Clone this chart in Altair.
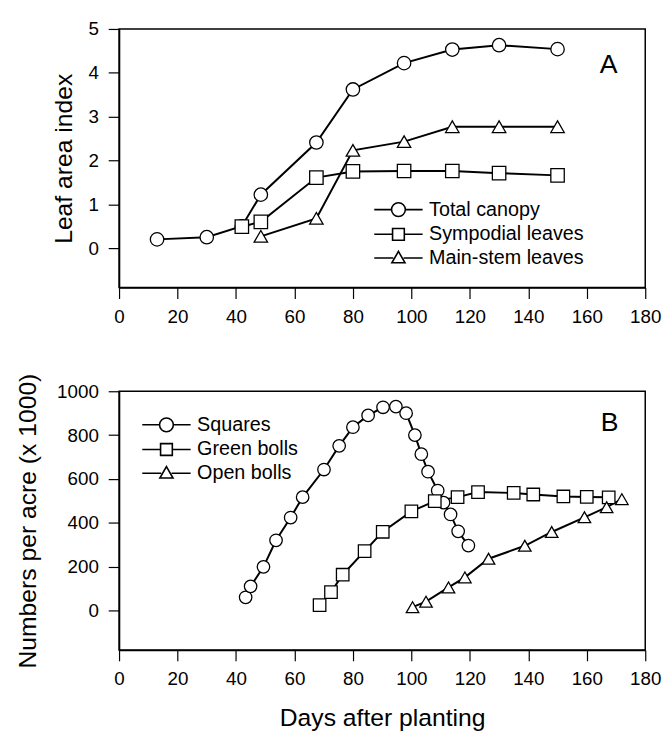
import altair as alt
import pandas as pd

# ---------------- Panel A: leaf area index ----------------
a_names = ["Total canopy", "Sympodial leaves", "Main-stem leaves"]
canopy_days = [13, 30, 42, 48.5, 67.5, 80, 97.5, 114, 130, 150]
canopy_lai = [0.20, 0.25, 0.50, 1.22, 2.41, 3.62, 4.22, 4.53, 4.63, 4.54]
symp_days = [42, 48.5, 67.5, 80, 97.5, 114, 130, 150]
symp_lai = [0.49, 0.60, 1.61, 1.75, 1.76, 1.76, 1.71, 1.66]
main_days = [48.5, 67.5, 80, 97.5, 114, 130, 150]
main_lai = [0.27, 0.68, 2.23, 2.43, 2.77, 2.77, 2.77]

# ---------------- Panel B: fruit numbers ----------------
b_names = ["Squares", "Green bolls", "Open bolls"]
squares_days = [43.3, 45, 49.4, 53.7, 58.7, 62.8, 70.1, 75.3, 80, 85.2, 90.3,
                94.7, 98.2, 101.2, 103.4, 105.7, 109, 111, 113.4, 116, 119.5]
squares_n = [60, 110, 199, 320, 424, 517, 643, 751, 836, 890, 927,
             930, 900, 800, 713, 633, 547, 492, 438, 361, 296]
green_days = [68.6, 72.5, 76.5, 84, 90.2, 100, 108, 115.8, 122.8, 135, 141.7, 152, 160, 167.5]
green_n = [24, 84, 163, 271, 359, 452, 499, 517, 540, 536, 529, 520, 518, 516]
open_days = [100.4, 105, 112.7, 118.3, 126.4, 138.8, 148, 159.2, 166.8, 172]
open_n = [15, 40, 105, 151, 236, 295, 358, 425, 471, 508]

x_ticks = list(range(0, 181, 20))
a_yticks = [0, 1, 2, 3, 4, 5]
b_yticks = [0, 200, 400, 600, 800, 1000]

FONT = "Liberation Sans"

# legend symbols: a short line with the marker in the middle
LEG_CIRCLE = "M-3.5,0L-1,0M1,0L3.5,0M-1,0A1,1 0 1,0 1,0A1,1 0 1,0 -1,0Z"
LEG_SQUARE = "M-3.5,0L-0.85,0M0.85,0L3.5,0M-0.85,-0.85L0.85,-0.85L0.85,0.85L-0.85,0.85Z"
LEG_TRI = "M-3.5,0L-0.75,0M0.75,0L3.5,0M0,-0.95L0.95,0.7L-0.95,0.7Z"
LEG_SHAPES = [LEG_CIRCLE, LEG_SQUARE, LEG_TRI]


def long_df(names, days_list, vals_list):
    frames = []
    for i, (n, d, v) in enumerate(zip(names, days_list, vals_list)):
        frames.append(pd.DataFrame({"series": n, "order": i, "day": d, "val": v}))
    return pd.concat(frames, ignore_index=True)


def panel(df, names, ydomain, yticks, ytitle, ytitle_pad, leg_x, leg_y,
          label, label_day, label_val, xtitle, msize):
    if xtitle:
        xax = alt.Axis(values=x_ticks, title=xtitle, titlePadding=18, format="d", labelFlush=False)
    else:
        xax = alt.Axis(values=x_ticks, title=None, format="d", labelFlush=False)
    x = alt.X("day:Q", scale=alt.Scale(domain=[0, 180], nice=False, zero=False), axis=xax)
    y = alt.Y("val:Q", scale=alt.Scale(domain=ydomain, nice=False, zero=False),
              axis=alt.Axis(values=yticks, title=ytitle, titlePadding=ytitle_pad,
                            labelPadding=10, format="d", labelFlush=False))

    lines = alt.Chart(df).mark_line(color="black", strokeWidth=2).encode(
        x=x, y=y, detail="series:N", order="day:Q")

    pts = alt.Chart(df).mark_point(
        filled=True, fill="white", stroke="black", strokeWidth=1.3, size=msize, opacity=1
    ).encode(
        x=x, y=y,
        shape=alt.Shape("series:N",
                        scale=alt.Scale(domain=names, range=["circle", "square", "triangle-up"]),
                        legend=None),
        order=alt.Order("order:Q"),
    )

    leg = alt.Chart(df).transform_filter("datum.day < -1000").mark_point(
        filled=False, stroke="black", color="black", strokeWidth=1.6, size=196, opacity=1
    ).encode(
        x=x, y=y,
        shape=alt.Shape("series:N",
                        scale=alt.Scale(domain=names, range=LEG_SHAPES),
                        legend=alt.Legend(
                            orient="none", legendX=leg_x, legendY=leg_y,
                            title=None, padding=0,
                            labelFont=FONT, labelFontSize=20, labelColor="black",
                            labelOffset=21, rowPadding=4,
                            symbolSize=196, symbolStrokeWidth=1.6, symbolOpacity=1,
                            symbolFillColor="white", symbolStrokeColor="black")),
    )

    txt_df = pd.DataFrame({"label": [label], "day": [label_day], "val": [label_val]})
    txt = alt.Chart(txt_df).mark_text(font=FONT, fontSize=27, color="black").encode(
        x=x, y=y, text="label:N")

    return alt.layer(lines, pts, leg, txt).resolve_scale(shape="independent").resolve_legend(
        shape="independent").properties(width=533, height=262)


dfA = long_df(a_names, [canopy_days, symp_days, main_days], [canopy_lai, symp_lai, main_lai])
dfB = long_df(b_names, [squares_days, green_days, open_days], [squares_n, green_n, open_n])

pA = panel(dfA, a_names, [-0.9, 5], a_yticks, "Leaf area index", 12, 273, 173,
           "A", 167.5, 4.17, None, 185)
pB = panel(dfB, b_names, [-180, 1000], b_yticks, "Numbers per acre (x 1000)", 16.5, 38, 24,
           "B", 167.8, 854, "Days after planting", 160)

chart = alt.vconcat(pA, pB, spacing=45).properties(
    padding={"left": 6.5, "top": 6.5, "right": 2, "bottom": 2},
    background="white",
).configure_view(
    stroke="black", strokeWidth=1.5
).configure_axis(
    domainColor="black", domainWidth=1.5, tickColor="black", tickSize=11, tickWidth=1.2,
    labelFont=FONT, labelFontSize=19, labelColor="black", labelPadding=9,
    titleFont=FONT, titleFontSize=25, titleFontWeight="normal", titleColor="black",
    grid=False
)

chart.save("out.html", embed_options={"renderer": "svg", "actions": False})
